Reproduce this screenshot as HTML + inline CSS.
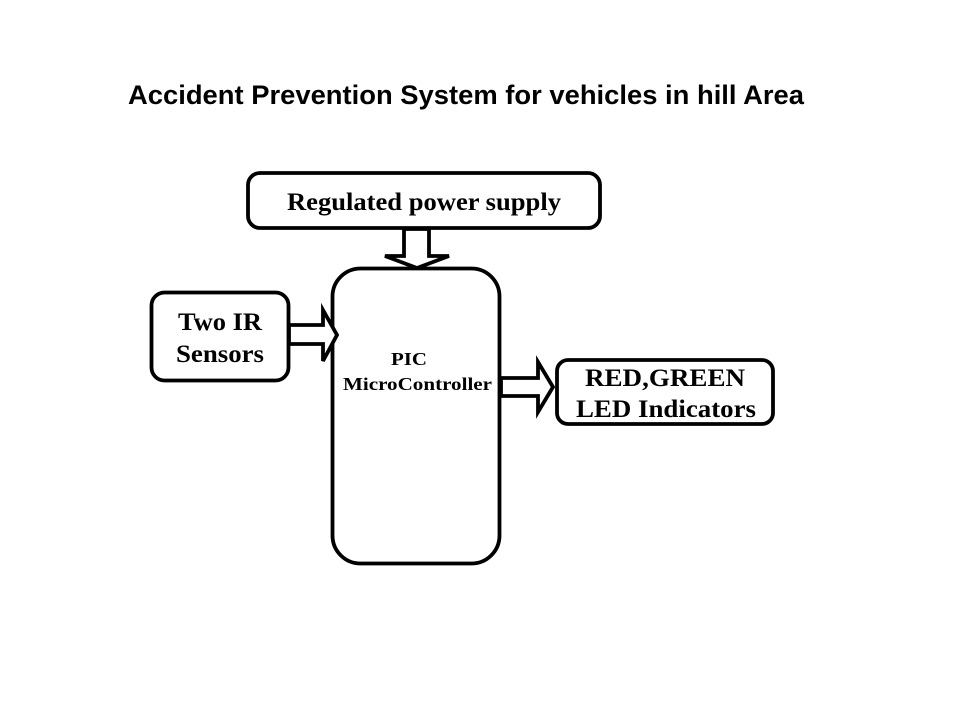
<!DOCTYPE html>
<html>
<head>
<meta charset="utf-8">
<style>
html,body{margin:0;padding:0;background:#fff;}
svg{display:block;}
</style>
</head>
<body>
<svg width="960" height="720" viewBox="0 0 960 720" xmlns="http://www.w3.org/2000/svg">
  <rect x="0" y="0" width="960" height="720" fill="#fff"/>
  <text x="128" y="104" font-family="Liberation Sans, sans-serif" font-weight="bold" font-size="27" textLength="676" lengthAdjust="spacingAndGlyphs" fill="#000">Accident Prevention System for vehicles in hill Area</text>

  <g fill="#fff" stroke="#000" stroke-width="3.8" stroke-linejoin="miter">
    <!-- power supply -->
    <rect x="248" y="173" width="352" height="55" rx="12" ry="12"/>
    <!-- MCU -->
    <rect x="332.5" y="268.5" width="167" height="295" rx="28" ry="28"/>
    <!-- IR -->
    <rect x="151.5" y="292.5" width="137" height="88" rx="13" ry="13"/>
    <!-- LED -->
    <rect x="557" y="360" width="216" height="64" rx="11" ry="11"/>
    <!-- down arrow -->
    <polygon points="404,229 404,256 385,256 417,268 449,256 429,256 429,229"/>
    <!-- IR arrow -->
    <polygon points="289,325 323,325 323,310 337,335 323,361 323,344 289,344"/>
    <!-- output arrow -->
    <polygon points="501,378 538,378 538,362 553,387 538,412 538,396 501,396"/>
  </g>

  <g font-family="Liberation Serif, serif" font-weight="bold" fill="#000">
    <text x="287" y="210" font-size="25" textLength="274" lengthAdjust="spacingAndGlyphs">Regulated power supply</text>
    <text x="178" y="330" font-size="25" textLength="84" lengthAdjust="spacingAndGlyphs">Two IR</text>
    <text x="176" y="362" font-size="25" textLength="88" lengthAdjust="spacingAndGlyphs">Sensors</text>
    <text x="391" y="365" font-size="18" textLength="36" lengthAdjust="spacingAndGlyphs">PIC</text>
    <text x="343" y="390" font-size="18" textLength="149" lengthAdjust="spacingAndGlyphs">MicroController</text>
    <text x="585" y="386" font-size="25" textLength="160" lengthAdjust="spacingAndGlyphs">RED,GREEN</text>
    <text x="576" y="417" font-size="25" textLength="180" lengthAdjust="spacingAndGlyphs">LED Indicators</text>
  </g>
</svg>
</body>
</html>
